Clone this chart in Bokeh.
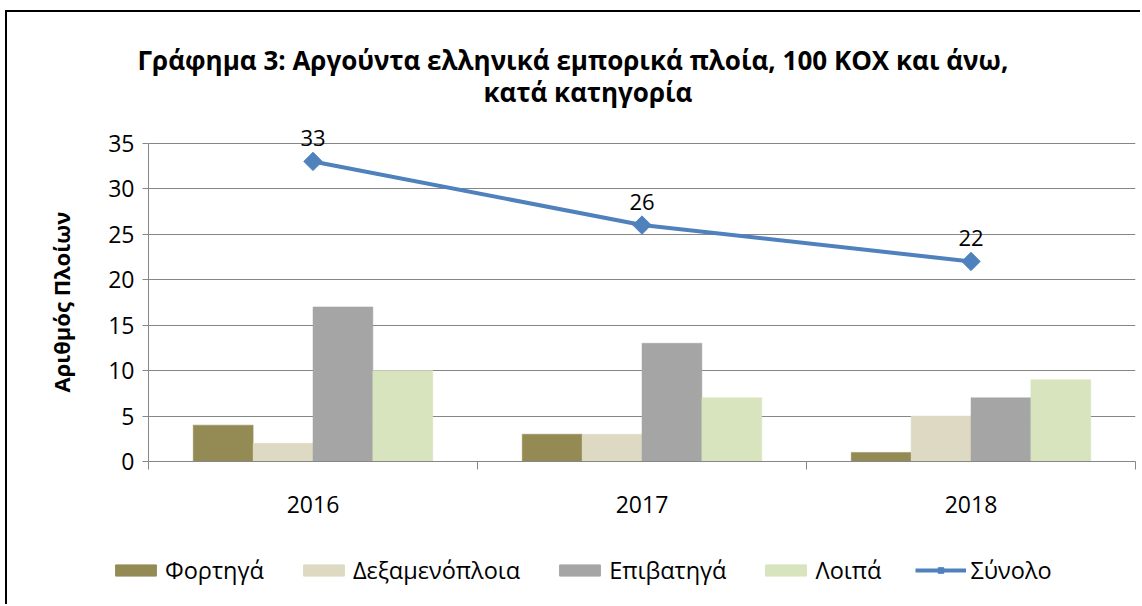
import numpy as np
from bokeh.plotting import figure
from bokeh.models import (ColumnDataSource, Range1d, FixedTicker, Legend, LegendItem,
                          LabelSet, Title)
from bokeh.core.properties import value
from bokeh.embed import file_html
from bokeh.resources import INLINE

years = ["2016", "2017", "2018"]
series_names = ["Φορτηγά", "Δεξαμενόπλοια", "Επιβατηγά", "Λοιπά"]
fortiga = [4, 3, 1]
dexamenoploia = [2, 3, 5]
epivatiga = [17, 13, 7]
loipa = [10, 7, 9]
synolo = [33, 26, 22]
total_name = "Σύνολο"
y_ticks = [0, 5, 10, 15, 20, 25, 30, 35]

colors = ["#948A54", "#DDD9C3", "#A5A5A5", "#D7E4BD"]
line_color = "#4F81BD"
grid_color = "#868686"
FONT = "Open Sans"

p = figure(width=1135, height=518, output_backend="svg", toolbar_location=None,
           x_range=Range1d(0, 3), y_range=Range1d(0, 37.5),
           min_border_left=141, min_border_right=7, min_border_top=108,
           min_border_bottom=69,
           styles={"border-left": "2px solid black", "border-top": "2px solid black",
                   "margin-left": "5px", "margin-top": "10px"})
p.outline_line_color = None
p.background_fill_color = "white"
p.border_fill_color = "white"

centers = np.arange(len(years)) + 0.5
bar_w = 0.182
offsets = [-1.5 * bar_w, -0.5 * bar_w, 0.5 * bar_w, 1.5 * bar_w]
all_series = [fortiga, dexamenoploia, epivatiga, loipa]

bar_sources = []
for vals, off, col in zip(all_series, offsets, colors):
    src = ColumnDataSource(dict(x=centers + off, top=vals))
    bar_sources.append(src)
    p.vbar(x="x", top="top", width=bar_w, bottom=0, source=src,
           fill_color=col, line_color=col, line_width=0.5)

lsrc = ColumnDataSource(dict(x=centers, y=synolo, lab=[str(v) for v in synolo]))
p.line("x", "y", source=lsrc, line_color=line_color, line_width=4)
p.scatter("x", "y", source=lsrc, marker="square", angle=np.pi / 4, size=13,
          fill_color=line_color, line_color=line_color)
labels = LabelSet(x="x", y="y", text="lab", source=lsrc, text_align="center",
                  text_baseline="bottom", y_offset=15, text_font=value(FONT),
                  text_font_size="22px", text_color="black")
p.add_layout(labels)

# axes
xa = p.xaxis[0]
xa.ticker = FixedTicker(ticks=list(centers), minor_ticks=[0, 1, 2, 3])
xa.major_label_overrides = {float(c): y for c, y in zip(centers, years)}
xa.major_tick_out = 0
xa.major_tick_in = 0
xa.minor_tick_out = 8
xa.minor_tick_in = 0
xa.minor_tick_line_color = grid_color
xa.axis_line_color = grid_color
xa.major_label_text_font = FONT
xa.major_label_text_font_size = "23px"
xa.major_label_text_color = "black"
xa.major_label_standoff = 26

ya = p.yaxis[0]
ya.ticker = FixedTicker(ticks=y_ticks)
ya.bounds = (0, 35)
ya.minor_tick_line_color = None
ya.major_tick_out = 6
ya.major_tick_in = 0
ya.major_tick_line_color = grid_color
ya.axis_line_color = grid_color
ya.major_label_text_font = FONT
ya.major_label_text_font_size = "23px"
ya.major_label_text_color = "black"
ya.major_label_standoff = 8

ylab = Title(text="Αριθμός Πλοίων", align="left", text_font=FONT,
             text_font_style="bold", text_font_size="22px", text_color="black",
             offset=69, standoff=60)
p.add_layout(ylab, "left")

p.xgrid.grid_line_color = None
p.ygrid.ticker = FixedTicker(ticks=y_ticks)
p.ygrid.grid_line_color = grid_color
p.ygrid.grid_line_width = 1.2

# titles
t2 = Title(text="κατά κατηγορία", align="left", text_font=FONT,
           text_font_style="bold", text_font_size="26px", text_color="black",
           offset=335, standoff=22)
t1 = Title(text="Γράφημα 3: Αργούντα ελληνικά εμπορικά πλοία, 100 ΚΟΧ και άνω,",
           align="left", text_font=FONT, text_font_style="bold",
           text_font_size="26px", text_color="black", offset=-11, standoff=-34)
p.add_layout(t2, "above")
p.add_layout(t1, "above")

# legend figure: same renderers' data, hidden; only its legend shows
lg = figure(width=1135, height=76, output_backend="svg", toolbar_location=None,
            x_range=Range1d(0, 1), y_range=Range1d(0, 1),
            min_border_left=0, min_border_right=0, min_border_top=0,
            min_border_bottom=0,
            styles={"border-left": "2px solid black", "margin-left": "5px"})
lg.axis.visible = False
lg.grid.visible = False
lg.outline_line_color = None
lg.border_fill_color = "white"

items = []
for name, col, src in zip(series_names, colors, bar_sources):
    r = lg.vbar(x="x", top="top", width=bar_w, source=src,
                fill_color=col, line_color=col, visible=False)
    items.append(LegendItem(label=name, renderers=[r]))
rl = lg.line("x", "y", source=lsrc, line_color=line_color, line_width=4, visible=False)
rs = lg.scatter("x", "y", source=lsrc, marker="square", angle=np.pi / 4, size=13,
                fill_color=line_color, line_color=line_color, visible=False)
items.append(LegendItem(label=total_name, renderers=[rl, rs]))

legend = Legend(items=items, orientation="horizontal", location=(103, 18),
                glyph_width=51, glyph_height=14, label_standoff=4, spacing=34,
                label_text_font=FONT, label_text_font_size="23.5px",
                label_text_color="black",
                border_line_color=None, background_fill_alpha=0,
                padding=0, margin=0)
lg.add_layout(legend, "center")

open("out.html", "w").write(file_html([p, lg], INLINE))
